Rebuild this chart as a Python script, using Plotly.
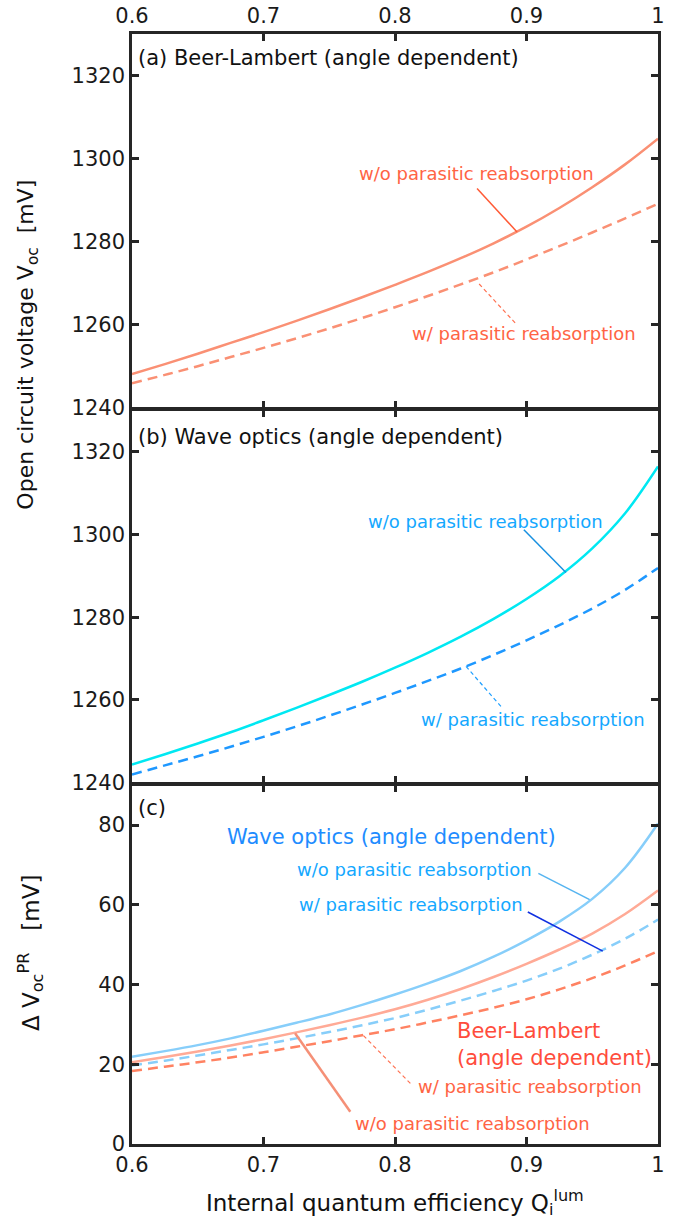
import plotly.graph_objects as go

# ---------------- data ----------------
qi = [0.6, 0.625, 0.65, 0.675, 0.7, 0.725, 0.75, 0.775, 0.8,
      0.825, 0.85, 0.875, 0.9, 0.925, 0.95, 0.975, 1.0]

bl_voc_wo = [1248.1, 1250.5, 1253.0, 1255.6, 1258.2, 1260.9, 1263.7, 1266.6, 1269.6,
             1272.7, 1276.0, 1279.6, 1283.6, 1288.1, 1293.1, 1298.6, 1304.8]
bl_voc_w = [1245.9, 1247.9, 1250.0, 1252.2, 1254.4, 1256.7, 1259.1, 1261.6, 1264.2,
            1266.9, 1269.7, 1272.6, 1275.7, 1278.9, 1282.2, 1285.6, 1289.1]

wo_voc_wo = [1244.4, 1246.9, 1249.5, 1252.2, 1255.1, 1258.1, 1261.2, 1264.4, 1267.8,
             1271.4, 1275.3, 1279.6, 1284.4, 1289.9, 1296.6, 1305.1, 1316.4]
wo_voc_w = [1242.0, 1244.2, 1246.4, 1248.7, 1251.1, 1253.6, 1256.2, 1258.9, 1261.7,
            1264.6, 1267.6, 1270.9, 1274.4, 1278.1, 1282.1, 1286.6, 1291.9]

wo_dv_wo = [21.9, 23.3, 24.8, 26.5, 28.4, 30.4, 32.5, 34.9, 37.5,
            40.3, 43.4, 47.0, 51.1, 55.8, 61.5, 69.3, 80.4]
bl_dv_wo = [20.5, 21.8, 23.2, 24.7, 26.3, 28.0, 29.8, 31.7, 33.8,
            36.2, 38.9, 41.9, 45.2, 48.8, 52.8, 57.7, 63.6]
wo_dv_w = [19.7, 20.9, 22.2, 23.6, 25.0, 26.5, 28.1, 29.8, 31.6,
           33.7, 36.0, 38.4, 41.0, 44.0, 47.5, 51.5, 56.3]
bl_dv_w = [18.3, 19.4, 20.5, 21.7, 23.0, 24.4, 25.8, 27.3, 28.8,
           30.5, 32.3, 34.2, 36.3, 38.8, 41.6, 44.8, 48.4]

x_ticks = [0.6, 0.7, 0.8, 0.9, 1.0]
x_ticktext = ["0.6", "0.7", "0.8", "0.9", "1"]
voc_ticks = [1240, 1260, 1280, 1300, 1320]
dv_ticks = [0, 20, 40, 60, 80]

# ---------------- style ----------------
FONT = "DejaVu Sans"
AX = "#262626"
SALMON = "#FA9074"
SALMON_TXT = "#FF6444"
CYAN = "#00E8F2"
DBLUE = "#1E98FF"
BLUE_TXT = "#14A8FF"
LSKY = "#87CEFA"
BL_SOLID_C = "#FFAA96"
BL_DASH_C = "#FF8262"
DASH = "10px,6px"
LW = 2.5

fig = go.Figure()

def line(x, y, color, dash, xa, ya, w=2.5):
    fig.add_trace(go.Scatter(x=x, y=y, mode="lines", xaxis=xa, yaxis=ya,
                             line=dict(color=color, width=w, dash=dash, shape="spline", smoothing=1.0),
                             showlegend=False, hoverinfo="skip"))

# panel (a)
line(qi, bl_voc_wo, SALMON, "solid", "x", "y")
line(qi, bl_voc_w, SALMON, DASH, "x", "y")
# panel (b)
line(qi, wo_voc_wo, CYAN, "solid", "x2", "y2")
line(qi, wo_voc_w, DBLUE, DASH, "x2", "y2")
# panel (c)
line(qi, wo_dv_wo, LSKY, "solid", "x3", "y3")
line(qi, bl_dv_wo, BL_SOLID_C, "solid", "x3", "y3")
line(qi, wo_dv_w, LSKY, DASH, "x3", "y3")
line(qi, bl_dv_w, BL_DASH_C, DASH, "x3", "y3")

# domains (bottom -> top); small gaps so the shared frame lines coincide
PLOT_H = 1110.0
g = LW / PLOT_H
dom_c = [0.0, 0.3243 - g / 2]
dom_b = [0.3243 + g / 2, 0.6622 - g / 2]
dom_a = [0.6622 + g / 2, 1.0]

axis_common = dict(showline=True, linecolor=AX, linewidth=LW, mirror="ticks",
                   ticks="inside", ticklen=7, tickwidth=2.5, tickcolor=AX,
                   showgrid=False, zeroline=False, automargin=False,
                   tickfont=dict(family=FONT, size=21, color="#1a1a1a"))

xax = dict(range=[0.6, 1.0], tickvals=x_ticks, ticktext=x_ticktext, **axis_common)

fig.update_layout(
    width=684, height=1220,
    margin=dict(l=132, r=26, t=34, b=76, autoexpand=False),
    paper_bgcolor="white", plot_bgcolor="white",
    font=dict(family=FONT, color="#1a1a1a"),
    xaxis=dict(anchor="y", side="top", **xax),
    xaxis2=dict(anchor="y2", matches="x", showticklabels=False, **xax),
    xaxis3=dict(anchor="y3", matches="x", **xax),
    yaxis=dict(domain=dom_a, anchor="x", range=[1240, 1330], tickvals=voc_ticks, **axis_common),
    yaxis2=dict(domain=dom_b, anchor="x2", range=[1240, 1330], tickvals=voc_ticks, **axis_common),
    yaxis3=dict(domain=dom_c, anchor="x3", range=[0, 90], tickvals=dv_ticks, **axis_common),
)

ann = []
def txt(text, x, y, xref, yref, color, size, xanchor="center", yanchor="middle", align="center", angle=0):
    ann.append(dict(text=text, x=x, y=y, xref=xref, yref=yref, showarrow=False,
                    xanchor=xanchor, yanchor=yanchor, align=align, textangle=angle,
                    font=dict(family=FONT, size=size, color=color)))

# panel titles
txt("(a) Beer-Lambert (angle dependent)", 0.008, 0.936, "x domain", "y domain", "#111111", 21, xanchor="left")
txt("(b) Wave optics (angle dependent)", 0.008, 0.928, "x2 domain", "y2 domain", "#111111", 21, xanchor="left")
txt("(c)", 0.008, 0.936, "x3 domain", "y3 domain", "#111111", 21, xanchor="left")

# panel (a) labels
txt("w/o parasitic reabsorption", 0.862, 1296.4, "x", "y", SALMON_TXT, 18)
txt("w/ parasitic reabsorption", 0.898, 1257.8, "x", "y", SALMON_TXT, 18)
# panel (b) labels
txt("w/o parasitic reabsorption", 0.869, 1303.1, "x2", "y2", BLUE_TXT, 18)
txt("w/ parasitic reabsorption", 0.905, 1255.3, "x2", "y2", BLUE_TXT, 18)
# panel (c) labels
txt("Wave optics (angle dependent)", 0.797, 76.9, "x3", "y3", "#1E8CFF", 21)
txt("w/o parasitic reabsorption", 0.815, 68.9, "x3", "y3", BLUE_TXT, 18)
txt("w/ parasitic reabsorption", 0.812, 60.2, "x3", "y3", BLUE_TXT, 18)
txt("Beer-Lambert<br>(angle dependent)", 0.846, 24.9, "x3", "y3", "#FF4C3C", 21, xanchor="left", align="left")
txt("w/ parasitic reabsorption", 0.903, 14.5, "x3", "y3", SALMON_TXT, 18)
txt("w/o parasitic reabsorption", 0.859, 5.2, "x3", "y3", SALMON_TXT, 18)

# axis titles
txt("Open circuit voltage V<sub>oc</sub>&nbsp; [mV]", -0.198, 0.72, "paper", "paper", "#111111", 22, angle=-90)
txt("Δ V<sub>oc</sub><sup>PR</sup>&nbsp;&nbsp; [mV]", -0.194, 0.172, "paper", "paper", "#111111", 23, angle=-90)
txt("Internal quantum efficiency Q<sub>i</sub><sup>lum</sup>", 0.5, -0.053, "paper", "paper", "#111111", 23)

fig.update_layout(annotations=ann)

# leader lines
shapes = []
def leader(x0, y0, x1, y1, xref, yref, color, width=1.5, dash="solid"):
    shapes.append(dict(type="line", x0=x0, y0=y0, x1=x1, y1=y1, xref=xref, yref=yref,
                       line=dict(color=color, width=width, dash=dash)))

leader(0.8624, 1292.8, 0.8928, 1282.3, "x", "y", "#FF5A36", 1.5)
leader(0.864, 1269.8, 0.892, 1260.2, "x", "y", "#FF7050", 1.2, "4px,3px")
leader(0.898, 1301.1, 0.930, 1290.8, "x2", "y2", "#1890E0", 1.5)
leader(0.854, 1268.1, 0.881, 1258.3, "x2", "y2", "#20A0FF", 1.2, "4px,3px")
leader(0.909, 67.9, 0.948, 61.3, "x3", "y3", "#55B4F0", 1.5)
leader(0.901, 58.2, 0.958, 48.4, "x3", "y3", "#1030E0", 1.5)
leader(0.776, 27.2, 0.812, 15.1, "x3", "y3", "#FF7050", 1.2, "4px,3px")
leader(0.724, 27.8, 0.766, 8.1, "x3", "y3", "#F59077", 2.5)

fig.update_layout(shapes=shapes)

fig.write_html("out.html")
